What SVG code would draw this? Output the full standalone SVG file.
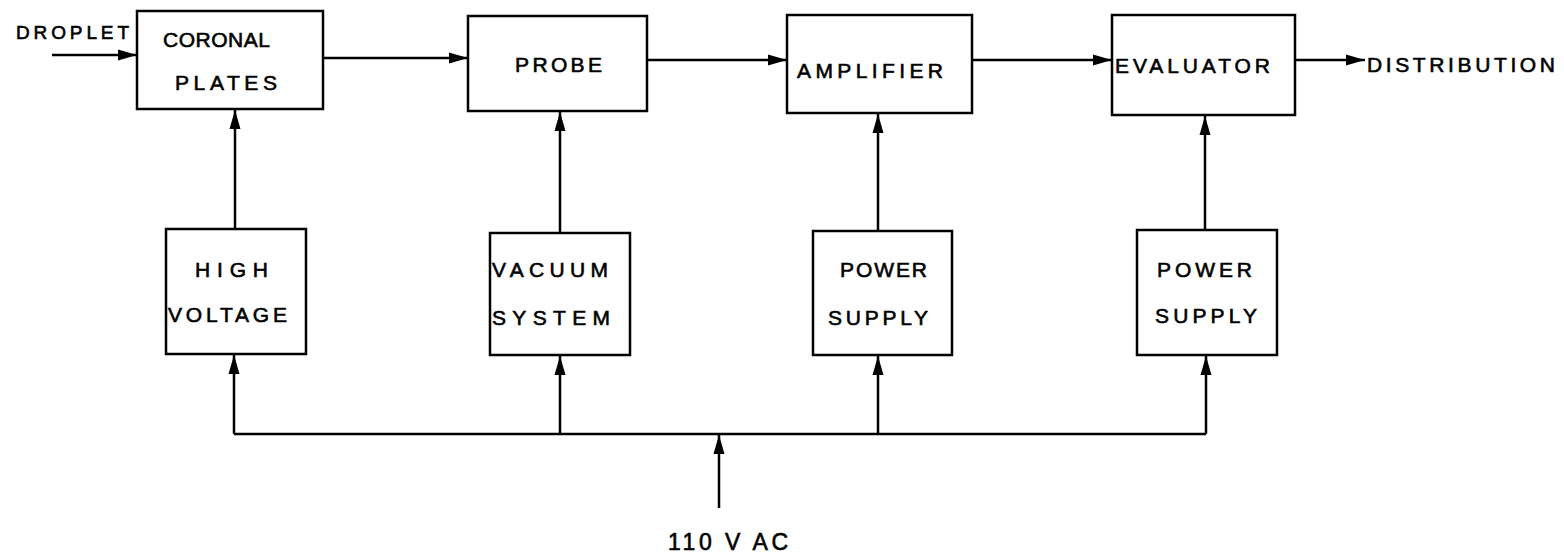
<svg xmlns="http://www.w3.org/2000/svg" width="1564" height="557" viewBox="0 0 1564 557">
<style>
.box{fill:none;stroke:#000;stroke-width:2.5}
.ln{fill:none;stroke:#000;stroke-width:2.5}
.t{font-family:"Liberation Sans",Arial,sans-serif;font-size:21px;fill:#000;stroke:#000;stroke-width:0.6}
</style>
<defs>
<marker id="ah" markerUnits="userSpaceOnUse" markerWidth="20" markerHeight="14" viewBox="0 0 20 14" refX="19" refY="7" orient="auto">
<path d="M0,1.5 L19,7 L0,12.5 z" fill="#000"/>
</marker>
</defs>
<rect width="1564" height="557" fill="#fff"/>
<g id="connectors">
<line class="ln" x1="52" y1="55" x2="137" y2="55" marker-end="url(#ah)"/>
<line class="ln" x1="323" y1="58" x2="468" y2="58" marker-end="url(#ah)"/>
<line class="ln" x1="647" y1="60" x2="787" y2="60" marker-end="url(#ah)"/>
<line class="ln" x1="972" y1="60" x2="1112" y2="60" marker-end="url(#ah)"/>
<line class="ln" x1="1295" y1="60" x2="1365" y2="60" marker-end="url(#ah)"/>
<line class="ln" x1="235" y1="230" x2="235" y2="110" marker-end="url(#ah)"/>
<line class="ln" x1="560" y1="233" x2="560" y2="112" marker-end="url(#ah)"/>
<line class="ln" x1="878" y1="231" x2="878" y2="114" marker-end="url(#ah)"/>
<line class="ln" x1="1205" y1="230" x2="1205" y2="116" marker-end="url(#ah)"/>
<path class="ln" d="M234,434 H1206"/>
<line class="ln" x1="234" y1="434" x2="234" y2="355" marker-end="url(#ah)"/>
<line class="ln" x1="560" y1="434" x2="560" y2="356" marker-end="url(#ah)"/>
<line class="ln" x1="878" y1="434" x2="878" y2="356" marker-end="url(#ah)"/>
<line class="ln" x1="1206" y1="434" x2="1206" y2="356" marker-end="url(#ah)"/>
<line class="ln" x1="719" y1="508" x2="719" y2="435" marker-end="url(#ah)"/>
</g>
<g id="droplet"><text class="t" x="16" y="39" textLength="113" lengthAdjust="spacing" style="font-size:19px">DROPLET</text></g>
<g id="coronal">
<rect class="box" x="137" y="11" width="186" height="98"/>
<text class="t" x="163" y="47" textLength="107" lengthAdjust="spacing">CORONAL</text>
<text class="t" x="175" y="90" textLength="102" lengthAdjust="spacing">PLATES</text>
</g>
<g id="probe">
<rect class="box" x="468" y="16" width="179" height="95"/>
<text class="t" x="515" y="72" textLength="87" lengthAdjust="spacing">PROBE</text>
</g>
<g id="amplifier">
<rect class="box" x="787" y="15" width="185" height="98"/>
<text class="t" x="797" y="78" textLength="146" lengthAdjust="spacing">AMPLIFIER</text>
</g>
<g id="evaluator">
<rect class="box" x="1112" y="15" width="183" height="100"/>
<text class="t" x="1115" y="73" textLength="155" lengthAdjust="spacing">EVALUATOR</text>
</g>
<g id="distribution"><text class="t" x="1367" y="72" textLength="188" lengthAdjust="spacing">DISTRIBUTION</text></g>
<g id="high-voltage">
<rect class="box" x="166" y="229" width="140" height="125"/>
<text class="t" x="195" y="277" textLength="73" lengthAdjust="spacing">HIGH</text>
<text class="t" x="168" y="322" textLength="119" lengthAdjust="spacing">VOLTAGE</text>
</g>
<g id="vacuum-system">
<rect class="box" x="490" y="233" width="140" height="122"/>
<text class="t" x="492" y="277" textLength="116" lengthAdjust="spacing">VACUUM</text>
<text class="t" x="492" y="325" textLength="118" lengthAdjust="spacing">SYSTEM</text>
</g>
<g id="power-supply-1">
<rect class="box" x="813" y="231" width="139" height="124"/>
<text class="t" x="840" y="277" textLength="87" lengthAdjust="spacing">POWER</text>
<text class="t" x="828" y="325" textLength="100" lengthAdjust="spacing">SUPPLY</text>
</g>
<g id="power-supply-2">
<rect class="box" x="1137" y="230" width="140" height="125"/>
<text class="t" x="1157" y="277" textLength="95" lengthAdjust="spacing">POWER</text>
<text class="t" x="1155" y="323" textLength="102" lengthAdjust="spacing">SUPPLY</text>
</g>
<g id="ac-input"><text class="t" x="668" y="550" textLength="120" lengthAdjust="spacing" style="font-size:23px">110 V AC</text></g>
</svg>
